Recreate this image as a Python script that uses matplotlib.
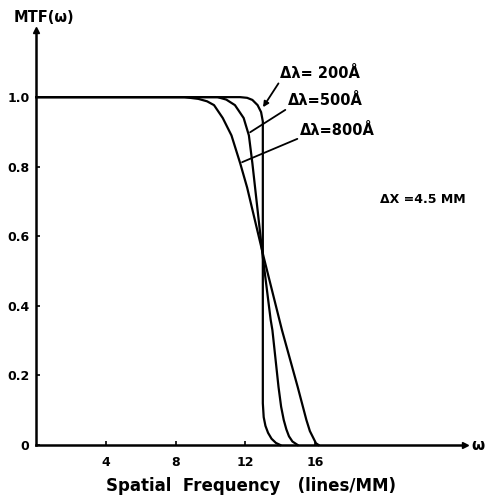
import numpy as np
import matplotlib
matplotlib.use("Agg")
import matplotlib.pyplot as plt

plt.rcParams['font.family'] = ['DejaVu Sans']
plt.rcParams['font.weight'] = 'bold'

# MTF curves (spatial frequency in lines/mm)
x200 = [0, 11.7, 12.1, 12.4, 12.7, 12.9, 13.0, 13.0, 13.0, 13.05, 13.15, 13.3, 13.5, 13.75, 14.0]
y200 = [1.0, 1.0, 0.998, 0.992, 0.977, 0.957, 0.93, 0.54, 0.12, 0.08, 0.055, 0.035, 0.018, 0.006, 0]

x500 = [0, 10.4, 10.9, 11.4, 11.9, 12.2, 12.4, 12.6, 13.0, 13.45, 13.55, 13.9, 14.05,
        14.2, 14.35, 14.5, 14.7, 15.0]
y500 = [1.0, 1.0, 0.993, 0.977, 0.94, 0.89, 0.81, 0.72, 0.54, 0.36, 0.33, 0.167, 0.11,
        0.072, 0.045, 0.025, 0.01, 0]

x800 = [0, 8.5, 9.3, 9.8, 10.2, 10.7, 11.2, 11.7, 12.1, 13.05, 14.1, 15.0, 15.5,
        15.7, 15.9, 16.05, 16.2]
y800 = [1.0, 1.0, 0.995, 0.988, 0.977, 0.94, 0.89, 0.81, 0.74, 0.54, 0.33, 0.167, 0.072,
        0.04, 0.02, 0.005, 0]

xticks = [4, 8, 12, 16]
yticks = [0, 0.2, 0.4, 0.6, 0.8, 1.0]
ylabels = ['0', '0.2', '0.4', '0.6', '0.8', '1.0']

fig = plt.figure(figsize=(4.86, 5.0), dpi=100)
ax = fig.add_axes([0.0747, 0.11, 0.882, 0.83])

for xs, ys in [(x200, y200), (x500, y500), (x800, y800)]:
    ax.plot(xs, ys, color='black', lw=1.6, solid_joinstyle='round', clip_on=False)

ax.set_xlim(0, 24.6)
ax.set_ylim(0, 1.193)

for s in ['top', 'right']:
    ax.spines[s].set_visible(False)
for s in ['left', 'bottom']:
    ax.spines[s].set_linewidth(1.8)

# axis arrows
ax.plot(1, 0, '>', color='black', ms=5, transform=ax.transAxes, clip_on=False)
ax.plot(0, 1, '^', color='black', ms=5, transform=ax.transAxes, clip_on=False)

ax.set_xticks(xticks)
ax.set_xticklabels([str(t) for t in xticks], fontsize=9, fontweight='bold')
ax.set_yticks(yticks)
ax.set_yticklabels(ylabels, fontsize=9, fontweight='bold')
ax.tick_params(axis='x', direction='in', length=3, width=1.2, pad=8)
ax.tick_params(axis='y', direction='in', length=3, width=1.2, pad=5)

ax.text(-0.054, 1.029, 'MTF(ω)', transform=ax.transAxes, fontsize=10.5,
        fontweight='bold', ha='left', va='center')
ax.text(1.015, 0.0, 'ω', transform=ax.transAxes, fontsize=11,
        fontweight='bold', ha='left', va='center')
ax.set_xlabel('Spatial  Frequency   (lines/MM)', fontsize=12,
              fontweight='bold', labelpad=6, x=0.5)

# labels with leader lines
ax.annotate('Δλ= 200Å', xy=(13.01, 0.971), xytext=(14.0, 1.069),
            fontsize=10.5, fontweight='bold', va='center', ha='left',
            arrowprops=dict(arrowstyle='-|>', color='black', lw=1.3,
                            shrinkA=0, shrinkB=0, mutation_scale=8,
                            relpos=(0.0, 0.0)))
ax.annotate('Δλ=500Å', xy=(12.27, 0.899), xytext=(14.45, 0.99),
            fontsize=10.5, fontweight='bold', va='center', ha='left',
            arrowprops=dict(arrowstyle='-', color='black', lw=1.3,
                            shrinkA=0, shrinkB=0, relpos=(0.0, 0.0)))
ax.annotate('Δλ=800Å', xy=(11.81, 0.813), xytext=(15.14, 0.905),
            fontsize=10.5, fontweight='bold', va='center', ha='left',
            arrowprops=dict(arrowstyle='-', color='black', lw=1.3,
                            shrinkA=0, shrinkB=0, relpos=(0.0, 0.0)))

ax.text(19.75, 0.707, 'ΔX =4.5 MM', fontsize=9, fontweight='bold',
        ha='left', va='center')

fig.savefig('out.png', dpi=100)
